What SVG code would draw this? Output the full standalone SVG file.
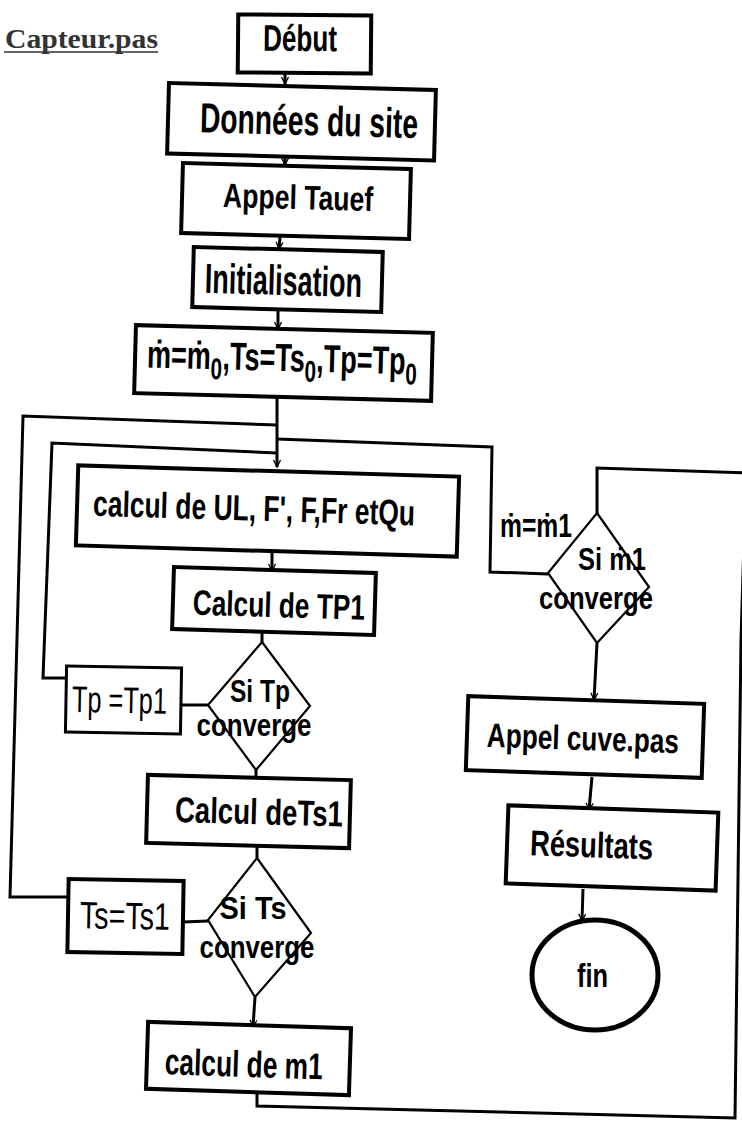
<svg xmlns="http://www.w3.org/2000/svg" width="742" height="1127" viewBox="0 0 742 1127">
<defs>
<marker id="arr" markerWidth="10" markerHeight="10" refX="8" refY="4" orient="auto" markerUnits="userSpaceOnUse">
<path d="M1,0.5 L8,4 L1,7.5" fill="none" stroke="#000" stroke-width="1.3"/>
</marker>
<style>
.box{fill:#fff;stroke:#000;stroke-width:4}
.dia{fill:#fff;stroke:#000;stroke-width:2.2}
.c{fill:none;stroke:#000;stroke-width:3}
.t{font-family:"Liberation Sans","DejaVu Sans",sans-serif;font-weight:bold;fill:#000;text-anchor:middle}
.n{font-weight:normal}
</style>
</defs>
<rect width="742" height="1127" fill="#fff"/>
<g id="title">
<text x="5" y="48" font-family="'Liberation Serif', serif" font-size="27" font-weight="bold" textLength="153" lengthAdjust="spacingAndGlyphs" fill="#333">Capteur.pas</text>
<line x1="4" y1="52" x2="158" y2="52" stroke="#333" stroke-width="1.5"/>
</g>
<g id="connectors">
<line class="c" x1="285" y1="73" x2="285" y2="84" marker-end="url(#arr)"/>
<line class="c" x1="285" y1="154" x2="285" y2="165" marker-end="url(#arr)"/>
<line class="c" x1="280" y1="237" x2="279" y2="249" marker-end="url(#arr)"/>
<line class="c" x1="278" y1="310" x2="278" y2="329" marker-end="url(#arr)"/>
<line class="c" x1="277" y1="398" x2="277" y2="467" marker-end="url(#arr)"/>
<polyline class="c" points="68,897 10,897 23,416 277,425"/>
<polyline class="c" points="66,678 43,678 52,443 277,453"/>
<polyline class="c" points="548,574 490,572 492,447 277,439"/>
<line class="c" x1="272" y1="550" x2="272" y2="571" marker-end="url(#arr)"/>
<line class="c" x1="262" y1="633" x2="262" y2="642"/>
<line class="c" x1="181" y1="705" x2="208" y2="705"/>
<line class="c" x1="256" y1="770" x2="256" y2="779"/>
<line class="c" x1="257" y1="846" x2="257" y2="858"/>
<line class="c" x1="183" y1="922" x2="208" y2="921"/>
<line class="c" x1="255" y1="997" x2="253" y2="1027" marker-end="url(#arr)"/>
<polyline class="c" points="257,1092 257,1106 735,1118 741,640 746,473 597,468 597,513"/>
<line class="c" x1="597" y1="643" x2="594" y2="700" marker-end="url(#arr)"/>
<line class="c" x1="592" y1="777" x2="589" y2="810" marker-end="url(#arr)"/>
<line class="c" x1="583" y1="889" x2="582" y2="921" marker-end="url(#arr)"/>
</g>
<g id="debut" transform="rotate(0.5 304.5 44)">
<rect class="box" x="238" y="15" width="133" height="58"/>
<text class="t" x="300" y="51" font-size="37" textLength="74" lengthAdjust="spacingAndGlyphs">Début</text>
</g>
<g id="donnees" transform="rotate(1.5 301.5 121.75)">
<rect class="box" x="168" y="86.5" width="267" height="70.5"/>
<text class="t" x="309" y="135" font-size="42" textLength="218" lengthAdjust="spacingAndGlyphs">Données du site</text>
</g>
<g id="appel-tauef" transform="rotate(1.5 296 201)">
<rect class="box" x="182" y="166" width="228" height="70"/>
<text class="t" x="298" y="209" font-size="34" textLength="150" lengthAdjust="spacingAndGlyphs">Appel Tauef</text>
</g>
<g id="initialisation" transform="rotate(1.5 287.5 279.5)">
<rect class="box" x="193" y="249.5" width="189" height="60"/>
<text class="t" x="283.5" y="295" font-size="42" textLength="157" lengthAdjust="spacingAndGlyphs">Initialisation</text>
</g>
<g id="init-values" transform="rotate(1.5 283.5 363)">
<rect class="box" x="135" y="329" width="297" height="68"/>
<text class="t" x="282" y="371" font-size="39" textLength="270" lengthAdjust="spacingAndGlyphs">ṁ=ṁ<tspan dy="10" font-size="30">0</tspan><tspan dy="-10">,Ts=Ts</tspan><tspan dy="10" font-size="30">0</tspan><tspan dy="-10">,Tp=Tp</tspan><tspan dy="10" font-size="30">0</tspan></text>
</g>
<g id="calcul-ul" transform="rotate(1.7 267.5 511)">
<rect class="box" x="77" y="471" width="381" height="80"/>
<text class="t" x="254" y="521" font-size="36" textLength="322" lengthAdjust="spacingAndGlyphs">calcul de UL, F', F,Fr etQu</text>
</g>
<g id="calcul-tp1" transform="rotate(1.7 274 601)">
<rect class="box" x="173" y="570" width="202" height="62"/>
<text class="t" x="279" y="617" font-size="35" textLength="172" lengthAdjust="spacingAndGlyphs">Calcul de TP1</text>
</g>
<g id="si-tp">
<polygon class="dia" points="262,642 310,706 256,770 208,705"/>
<text class="t" x="260" y="702" font-size="32" textLength="60" lengthAdjust="spacingAndGlyphs">Si Tp</text>
<text class="t" x="254" y="736" font-size="32" textLength="115" lengthAdjust="spacingAndGlyphs">converge</text>
</g>
<g id="tp-tp1" transform="rotate(1 123.5 700)">
<rect class="box" x="66" y="667" width="115" height="66" style="stroke-width:3"/>
<text class="t n" x="119.5" y="713" font-size="37" textLength="95" lengthAdjust="spacingAndGlyphs">Tp =Tp1</text>
</g>
<g id="calcul-ts1" transform="rotate(1.5 248.5 811.5)">
<rect class="box" x="147" y="777.5" width="203" height="68"/>
<text class="t" x="259" y="824" font-size="36" textLength="168" lengthAdjust="spacingAndGlyphs">Calcul deTs1</text>
</g>
<g id="si-ts">
<polygon class="dia" points="257,858 311,933 255,997 208,920"/>
<text class="t" x="253" y="919" font-size="32" textLength="67" lengthAdjust="spacingAndGlyphs">Si Ts</text>
<text class="t" x="257" y="958" font-size="32" textLength="115" lengthAdjust="spacingAndGlyphs">converge</text>
</g>
<g id="ts-ts1" transform="rotate(1 125.5 916.5)">
<rect class="box" x="68" y="880" width="115" height="73"/>
<text class="t n" x="125" y="929" font-size="38" textLength="90" lengthAdjust="spacingAndGlyphs">Ts=Ts1</text>
</g>
<g id="calcul-m1" transform="rotate(1.8 248.5 1058.5)">
<rect class="box" x="147" y="1025" width="203" height="67"/>
<text class="t" x="244" y="1077" font-size="37" textLength="158" lengthAdjust="spacingAndGlyphs">calcul de m1</text>
</g>
<g id="m-m1">
<text class="t" x="536" y="537" font-size="34" textLength="72" lengthAdjust="spacingAndGlyphs">ṁ=ṁ1</text>
</g>
<g id="si-m1">
<polygon class="dia" points="597,513 649,587 597,643 548,573"/>
<text class="t" x="612" y="570" font-size="32" textLength="68" lengthAdjust="spacingAndGlyphs">Si ṁ1</text>
<text class="t" x="596" y="609" font-size="32" textLength="114" lengthAdjust="spacingAndGlyphs">converge</text>
</g>
<g id="appel-cuve" transform="rotate(1.9 585 737)">
<rect class="box" x="467" y="700" width="236" height="74"/>
<text class="t" x="583" y="750" font-size="34" textLength="192" lengthAdjust="spacingAndGlyphs">Appel cuve.pas</text>
</g>
<g id="resultats" transform="rotate(2 612 848)">
<rect class="box" x="507" y="809" width="210" height="78"/>
<text class="t" x="591.5" y="858" font-size="36" textLength="123" lengthAdjust="spacingAndGlyphs">Résultats</text>
</g>
<g id="fin">
<ellipse cx="595" cy="975" rx="63" ry="55" fill="#fff" stroke="#000" stroke-width="5"/>
<text class="t" x="592.5" y="987" font-size="34" textLength="31" lengthAdjust="spacingAndGlyphs">fin</text>
</g>
</svg>
